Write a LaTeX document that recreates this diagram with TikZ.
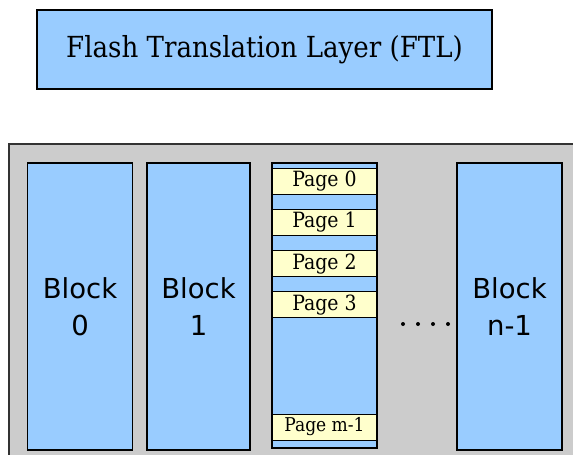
\documentclass[tikz,border=0pt]{standalone}
\usepackage{fontspec}
\setmainfont{DejaVu Serif Condensed}
\setsansfont{DejaVu Sans}
\usepackage{tikz}
\usetikzlibrary{positioning}

\definecolor{flashblue}{HTML}{99CCFF}
\definecolor{pageyellow}{HTML}{FFFFCC}
\definecolor{chipgray}{HTML}{CCCCCC}

\tikzset{
  ftlbox/.style={draw=black, fill=flashblue, line width=1.3pt, minimum width=455pt, minimum height=79pt, inner sep=0pt, font=\fontsize{29}{32}\selectfont},
  blockbox/.style={draw=black, fill=flashblue, line width=1.2pt, minimum width=105pt, minimum height=287pt, inner sep=0pt, align=center, font=\sffamily\fontsize{27.5}{37}\selectfont},
  pagebox/.style={draw=black, fill=pageyellow, line width=1pt, minimum width=104pt, minimum height=26pt, inner sep=0pt, font=\fontsize{21}{22}\selectfont},
}

\begin{document}
\begin{tikzpicture}[x=1pt,y=1pt]

\useasboundingbox (0,0) rectangle (573,-455);

\node[ftlbox] (ftl) at (264.5,-49.5) {Flash Translation Layer (FTL)};

%\draw [color=black!30] (0,-120) -- (573,-120);

\filldraw[fill=chipgray, draw=black!80, line width=1.5pt] (9,-144) rectangle (600,-480);

\node[blockbox] (block0) at (80,-306.5) {Block\\0};
\node[blockbox, minimum width=103pt] (block1) at (198.5,-306.5) {Block\\1};
\node[blockbox, minimum height=285pt] (block2) at (324.5,-305.5) {};
\node[blockbox] (blockn) at (509.5,-306.5) {Block\\n-1};

\foreach \i in {0,...,3}
  \node[pagebox] (page\i) at (324.5,{-181-41.3*\i}) {Page \i};

\node[pagebox, font=\fontsize{19}{20}\selectfont] (pagem) at (324.5,-427) {Page m-1};

\foreach \x in {403,418,433,448}
  \fill (\x,-324) circle (2);

\end{tikzpicture}
\end{document}
